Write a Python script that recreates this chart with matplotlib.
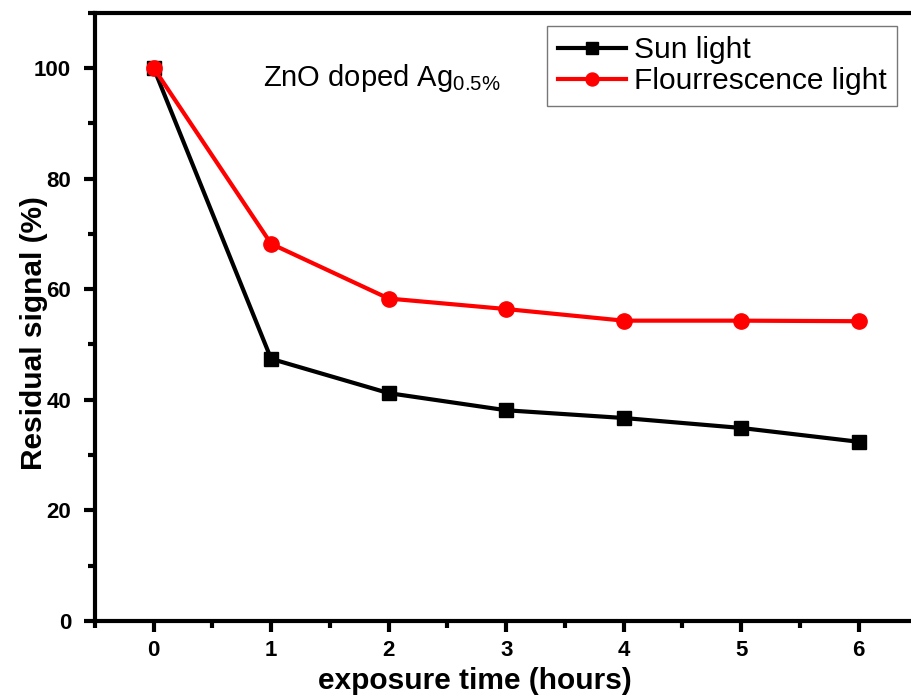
import matplotlib
matplotlib.use("Agg")
import matplotlib.pyplot as plt
from matplotlib.ticker import MultipleLocator

hours = [0, 1, 2, 3, 4, 5, 6]
sun_light = [100, 47.4, 41.2, 38.1, 36.7, 34.9, 32.4]
fluor_light = [100, 68.2, 58.3, 56.4, 54.3, 54.3, 54.2]

plt.rcParams['font.family'] = ['Liberation Sans', 'DejaVu Sans']

fig = plt.figure(figsize=(9.12, 6.99), dpi=100)
ax = fig.add_axes([0.104, 0.1116, 1.006 - 0.104, 0.982 - 0.1116])

ax.plot(hours, sun_light, color='black', lw=3, marker='s', ms=10, label='Sun light')
ax.plot(hours, fluor_light, color='#ff0000', lw=3, marker='o', ms=11, label='Flourrescence light')

ax.set_xlim(-0.5, 6.5)
ax.set_ylim(0, 110)
ax.xaxis.set_major_locator(MultipleLocator(1))
ax.xaxis.set_minor_locator(MultipleLocator(0.5))
ax.yaxis.set_major_locator(MultipleLocator(20))
ax.yaxis.set_minor_locator(MultipleLocator(10))
ax.set_yticks([0, 20, 40, 60, 80, 100])

for s in ax.spines.values():
    s.set_linewidth(3)
ax.tick_params(which='major', direction='out', length=8, width=3, labelsize=16)
ax.tick_params(axis='y', which='major', pad=9)
ax.tick_params(axis='x', which='major', pad=6)
ax.tick_params(which='minor', direction='out', length=5, width=3)
for lab in ax.get_xticklabels() + ax.get_yticklabels():
    lab.set_fontweight('bold')

ax.set_xlabel('exposure time (hours)', fontsize=21.5, fontweight='bold')
ax.set_ylabel('Residual signal (%)', fontsize=21.5, fontweight='bold')
ax.xaxis.set_label_coords(0.462, -0.075)
ax.yaxis.set_label_coords(-0.057, 0.473)

ax.text(0.935, 96.8, r'ZnO doped Ag$_{\mathregular{0.5\%}}$', fontsize=21, va='baseline')

leg = ax.legend(loc='upper right', bbox_to_anchor=(0.975, 0.978), fontsize=21.5,
                frameon=True, fancybox=False, edgecolor='#555555', handlelength=2.3,
                handletextpad=0.25, borderpad=0.35, labelspacing=0.1, borderaxespad=0,
                markerscale=0.85)
leg.get_frame().set_linewidth(1)

fig.savefig('out.png', dpi=100)
